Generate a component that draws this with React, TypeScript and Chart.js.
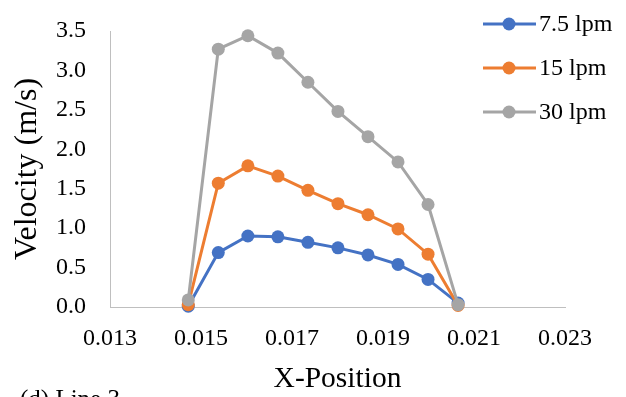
import React, { useEffect, useRef } from "react";
import { Chart, registerables } from "chart.js";

Chart.register(...registerables);

const FONT = '"Liberation Serif", "Times New Roman", serif';

const xPositions = [0.01472, 0.01538, 0.01603, 0.01669, 0.01735, 0.01801, 0.01867, 0.01933, 0.01999, 0.02065];
const velocity75 = [0.01, 0.69, 0.9, 0.89, 0.82, 0.75, 0.66, 0.54, 0.35, 0.05];
const velocity15 = [0.03, 1.57, 1.79, 1.66, 1.48, 1.31, 1.17, 0.99, 0.67, 0.02];
const velocity30 = [0.09, 3.27, 3.44, 3.22, 2.85, 2.48, 2.16, 1.84, 1.3, 0.03];

const seriesLabels = ["7.5 lpm", "15 lpm", "30 lpm"];
const seriesColors = ["#4472C4", "#ED7D31", "#A5A5A5"];
const seriesValues = [velocity75, velocity15, velocity30];

const xTicks = [0.013, 0.015, 0.017, 0.019, 0.021, 0.023];
const yTicks = [0, 0.5, 1, 1.5, 2, 2.5, 3, 3.5];
const xTitle = "X-Position";
const yTitle = "Velocity (m/s)";
const caption = "(d) Line 3";

const legendPlugin = {
  id: "sideLegend",
  afterDraw(chart: any) {
    const ctx = chart.ctx;
    ctx.save();
    chart.data.datasets.forEach((ds: any, i: number) => {
      const y = 24 + i * 44;
      ctx.strokeStyle = ds.borderColor;
      ctx.lineWidth = 3;
      ctx.beginPath();
      ctx.moveTo(483, y);
      ctx.lineTo(536, y);
      ctx.stroke();
      ctx.fillStyle = ds.borderColor;
      ctx.beginPath();
      ctx.arc(509, y, 6.5, 0, Math.PI * 2);
      ctx.fill();
      ctx.fillStyle = "#000";
      ctx.font = `24px ${FONT}`;
      ctx.textAlign = "left";
      ctx.textBaseline = "middle";
      ctx.fillText(ds.label, 539, y + 1);
    });
    ctx.font = `25px ${FONT}`;
    ctx.textBaseline = "alphabetic";
    ctx.fillStyle = "#000";
    ctx.fillText(caption, 20, 407);
    ctx.restore();
  },
};

export default function App() {
  const ref = useRef<HTMLCanvasElement | null>(null);
  useEffect(() => {
    if (!ref.current) return;
    const datasets = seriesLabels.map((label, i) => ({
      label,
      data: xPositions.map((x, j) => ({ x, y: seriesValues[i][j] })),
      borderColor: seriesColors[i],
      backgroundColor: seriesColors[i],
      pointBackgroundColor: seriesColors[i],
      pointBorderColor: seriesColors[i],
      borderWidth: 3,
      pointRadius: 6.5,
      pointBorderWidth: 0,
      tension: 0,
      clip: false as any,
      order: seriesLabels.length - i,
    }));
    const chart = new Chart(ref.current, {
      type: "line",
      data: { datasets },
      plugins: [legendPlugin],
      options: {
        animation: false,
        responsive: false,
        layout: { padding: { top: 31, right: 61, left: 0, bottom: 0 } },
        plugins: { legend: { display: false }, tooltip: { enabled: false } },
        scales: {
          x: {
            type: "linear",
            min: 0.013,
            max: 0.023,
            afterBuildTicks: (s: any) => {
              s.ticks = xTicks.map((v) => ({ value: v }));
            },
            afterFit: (s: any) => {
              s.height = 90;
            },
            ticks: {
              callback: (v: any) => Number(v).toFixed(3),
              font: { family: FONT, size: 24 },
              color: "#000",
              padding: 17,
              maxRotation: 0,
              autoSkip: false,
            },
            grid: { display: false, drawTicks: false },
            border: { display: true, color: "#BFBFBF", width: 1 },
            title: {
              display: true,
              text: xTitle,
              font: { family: FONT, size: 29.5, lineHeight: 0.8 },
              color: "#000",
              padding: { top: 0, bottom: 6.2 },
            },
          },
          y: {
            type: "linear",
            min: 0,
            max: 3.5,
            afterBuildTicks: (s: any) => {
              s.ticks = yTicks.map((v) => ({ value: v }));
            },
            afterFit: (s: any) => {
              s.width = 110;
            },
            ticks: {
              callback: (v: any) => Number(v).toFixed(1),
              font: { family: FONT, size: 24, lineHeight: 0.5 },
              color: "#000",
              padding: 24,
              autoSkip: false,
            },
            grid: { display: false, drawTicks: false },
            border: { display: true, color: "#BFBFBF", width: 1 },
            title: {
              display: true,
              text: yTitle,
              font: { family: FONT, size: 32, lineHeight: 0.8 },
              color: "#000",
              padding: { top: 15.2, bottom: 0 },
            },
          },
        },
      },
    });
    return () => chart.destroy();
  }, []);
  return (
    <div style={{ position: "absolute", left: 0, top: 0, width: 626, height: 397 }}>
      <canvas ref={ref} width={626} height={397} style={{ display: "block" }} />
    </div>
  );
}
